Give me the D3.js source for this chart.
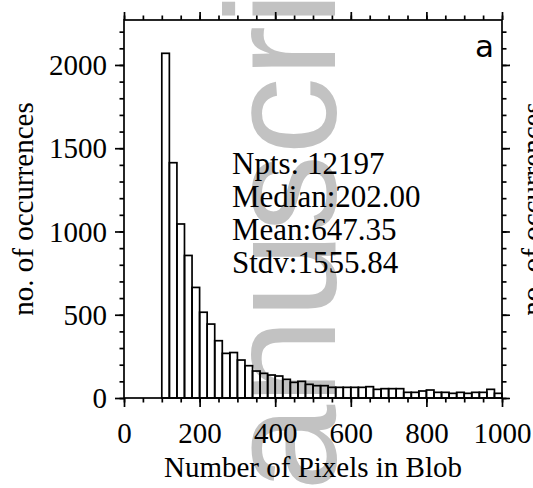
<!doctype html>
<html>
<head>
<meta charset="utf-8">
<script src="https://cdn.jsdelivr.net/npm/d3@7"></script>
<style>
body { margin: 0; background: #fff; }
svg { display: block; }
.axis path, .axis line { stroke: #000; stroke-width: 1.7; }
.axis text { font-family: "Liberation Serif", serif; font-size: 29px; fill: #000; }
</style>
</head>
<body>
<script>

// histogram of blob sizes, bins of 20 starting at 100
var binStart = 100;
var binWidth = 20;
var counts = [2070, 1413, 1045, 856, 664, 515, 444, 344, 268, 273,
              228, 194, 162, 148, 138, 132, 112, 94, 100, 82,
              74, 74, 64, 64, 64, 64, 64, 68, 52, 56,
              56, 56, 34, 34, 42, 48, 34, 34, 28, 34,
              28, 34, 34, 52, 28];
var xTicks = [0, 200, 400, 600, 800, 1000];
var yTicks = [0, 500, 1000, 1500, 2000];
var statLines = ["Npts: 12197", "Median:202.00", "Mean:647.35", "Stdv:1555.84"];

var W = 533, H = 488;
var m = {left: 124, right: 31, top: 20, bottom: 90};

var svg = d3.select("body").append("svg")
  .attr("width", W)
  .attr("height", H);

var x = d3.scaleLinear().domain([0, 1000]).range([m.left, W - m.right]);
var y = d3.scaleLinear().domain([0, 2270]).range([H - m.bottom, m.top]);

// journal watermark, sits behind everything
svg.append("text")
  .attr("transform", "translate(335,620) rotate(-90)")
  .style("font-family", "Liberation Sans, Arial, sans-serif")
  .style("font-size", "155px")
  .style("fill", "#c2c2c2")
  .text("Manuscript");

var bins = counts.map((c, i) => ({x0: binStart + i*binWidth, x1: binStart + (i+1)*binWidth, n: c}));

svg.append("g")
  .selectAll("rect")
  .data(bins)
  .enter().append("rect")
  .attr("x", d => x(d.x0))
  .attr("width", d => x(d.x1) - x(d.x0))
  .attr("y", d => y(d.n))
  .attr("height", d => y(0) - y(d.n))
  .style("fill", "none")
  .style("stroke", "#000")
  .style("stroke-width", 1.7);

var xMinor = d3.range(0, 1001, 50);
var yMinor = d3.range(0, 2201, 100);
var fmt = d3.format("d");

function axis(gen, tr) {
  return svg.append("g").attr("class", "axis").attr("transform", tr).call(gen);
}
// minor ticks first, then major ticks with labels
axis(d3.axisBottom(x).tickValues(xMinor).tickSize(4.5).tickSizeOuter(0).tickFormat(""), "translate(0," + y(0) + ")");
axis(d3.axisTop(x).tickValues(xMinor).tickSize(4.5).tickSizeOuter(0).tickFormat(""), "translate(0," + m.top + ")");
axis(d3.axisLeft(y).tickValues(yMinor).tickSize(4.5).tickSizeOuter(0).tickFormat(""), "translate(" + m.left + ",0)");
axis(d3.axisRight(y).tickValues(yMinor).tickSize(4.5).tickSizeOuter(0).tickFormat(""), "translate(" + (W - m.right) + ",0)");

var xb = axis(d3.axisBottom(x).tickValues(xTicks).tickSize(9).tickSizeOuter(0).tickFormat(fmt), "translate(0," + y(0) + ")");
xb.selectAll("text").attr("y", 45).attr("dy", 0);
axis(d3.axisTop(x).tickValues(xTicks).tickSize(8).tickSizeOuter(0).tickFormat(""), "translate(0," + m.top + ")");
var yl = axis(d3.axisLeft(y).tickValues(yTicks).tickSize(9).tickSizeOuter(0).tickFormat(fmt), "translate(" + m.left + ",0)");
yl.selectAll("text").attr("x", -17).attr("dy", "0.33em");
axis(d3.axisRight(y).tickValues(yTicks).tickSize(8).tickSizeOuter(0).tickFormat(""), "translate(" + (W - m.right) + ",0)");

svg.selectAll(".axis path.domain").remove();
svg.append("rect")
  .attr("x", m.left).attr("y", m.top)
  .attr("width", W - m.right - m.left)
  .attr("height", y(0) - m.top)
  .style("fill", "none").style("stroke", "#000").style("stroke-width", 1.7);

// axis titles
svg.append("text")
  .attr("x", (m.left + W - m.right)/2)
  .attr("y", 477)
  .attr("text-anchor", "middle")
  .style("font-family", "Liberation Serif, serif")
  .style("font-size", "29px")
  .text("Number of Pixels in Blob");

// left title, plus the neighbouring panel's title cut by the right edge
[33, 541.5].forEach(px =>
  svg.append("text")
    .attr("transform", "translate(" + px + "," + ((m.top + y(0))/2) + ") rotate(-90)")
    .attr("text-anchor", "middle")
    .style("font-family", "Liberation Serif, serif")
    .style("font-size", "29px")
    .text("no. of occurrences"));

// stats block
svg.append("g").selectAll("text")
  .data(statLines)
  .enter().append("text")
  .attr("x", 232)
  .attr("y", (d, i) => 174 + i*33)
  .style("font-family", "Liberation Serif, serif")
  .style("font-size", "31px")
  .text(d => d);

svg.append("text")
  .attr("x", 494)
  .attr("y", 57)
  .attr("text-anchor", "end")
  .style("font-family", "DejaVu Sans, sans-serif")
  .style("font-size", "31px")
  .text("a");

</script>
</body>
</html>
